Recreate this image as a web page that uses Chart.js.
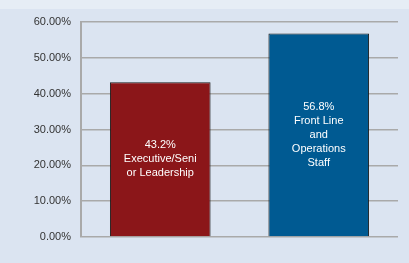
<!DOCTYPE html>
<html>
<head>
<meta charset="utf-8">
<script src="https://cdn.jsdelivr.net/npm/chart.js@4.4.0/dist/chart.umd.min.js"></script>
<style>
  html, body { margin: 0; padding: 0; }
  body { width: 409px; height: 263px; background: #dbe4f1; position: relative; overflow: hidden; }
  .strip { position: absolute; left: 0; top: 0; width: 409px; height: 9px; background: #e6edf5; }
  .wrap { position: absolute; left: 0; top: 0; width: 409px; height: 263px; }
</style>
</head>
<body>
<div class="strip"></div>
<div class="wrap"><canvas id="canvas" width="409" height="263"></canvas></div>
<script>
const categories = ["Executive/Senior Leadership", "Front Line and Operations Staff"]
const values = [43.2, 56.8]
const barLabels = [
  ["43.2%", "Executive/Seni", "or Leadership"],
  ["56.8%", "Front Line", "and", "Operations", "Staff"]
]
const barColors = ["#8b1619", "#005a92"]
const yTicks = [0, 10, 20, 30, 40, 50, 60]

// writes the label lines in the middle of each bar
const barText = {
  id: "barText",
  afterDatasetsDraw(chart) {
    const ctx = chart.ctx
    const meta = chart.getDatasetMeta(0)
    ctx.save()
    ctx.fillStyle = "#ffffff"
    ctx.font = "11px 'Liberation Sans', Arial, sans-serif"
    ctx.textAlign = "center"
    ctx.textBaseline = "middle"
    meta.data.forEach((bar, i) => {
      let lines = barLabels[i]
      let mid = (bar.y + bar.base) / 2
      let lh = 14
      let start = mid - (lines.length - 1) * lh / 2
      lines.forEach((t, j) => ctx.fillText(t, bar.x, start + j * lh))
    })
    ctx.restore()
  }
}

const ctx = document.getElementById('canvas');
const myChart = new Chart(ctx, {
  type: 'bar',
  data: {
    labels: categories,
    datasets: [{
      data: values,
      backgroundColor: barColors,
      borderColor: "#1a1a1a",
      borderWidth: 1,
      categoryPercentage: 1,
      barPercentage: 0.635
    }]
  },
  options: {
    responsive: false,
    animation: false,
    layout: { padding: { left: 0, top: 22, right: 11, bottom: 26 } },
    plugins: { legend: { display: false }, tooltip: { enabled: false } },
    scales: {
      x: { display: false },
      y: {
        min: 0,
        max: 60,
        afterFit(scale) { scale.width = 81 },
        afterBuildTicks(scale) { scale.ticks = yTicks.map(v => ({ value: v })) },
        ticks: {
          color: "#333333",
          padding: 10,
          font: { family: "'Liberation Sans', Arial, sans-serif", size: 11 },
          callback: v => v.toFixed(2) + "%"
        },
        grid: { color: "#a9a9a9", lineWidth: 1.5, drawTicks: false },
        border: { color: "#a9a9a9", width: 2 }
      }
    }
  },
  plugins: [barText]
});
</script>
</body>
</html>
